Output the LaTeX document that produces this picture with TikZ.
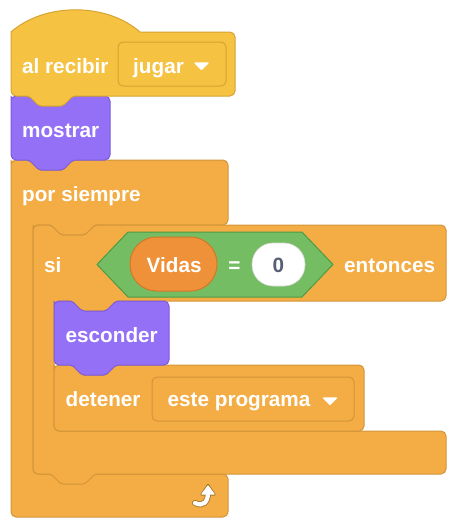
\documentclass[tikz,border=0pt]{standalone}
\usepackage{fontspec}
\setmainfont{Liberation Sans}
\definecolor{hatfill}{HTML}{F5C242}
\definecolor{hatline}{HTML}{D6A432}
\definecolor{ctrlfill}{HTML}{F3AD44}
\definecolor{ctrlline}{HTML}{D3953A}
\definecolor{lookfill}{HTML}{9470F7}
\definecolor{lookline}{HTML}{7D5BDA}
\definecolor{opfill}{HTML}{74BD62}
\definecolor{opline}{HTML}{4E9B45}
\definecolor{varfill}{HTML}{EF9139}
\definecolor{varline}{HTML}{D3782A}
\definecolor{numtext}{HTML}{575E75}
\begin{document}
\begin{tikzpicture}[x=1pt,y=-1pt,
  blk/.style={line width=1pt, line join=round},
  hatblk/.style={blk, fill=hatfill, draw=hatline},
  ctrlblk/.style={blk, fill=ctrlfill, draw=ctrlline, rounded corners=5pt},
  lookblk/.style={blk, fill=lookfill, draw=lookline, rounded corners=5pt},
  lbl/.style={text=white, font=\bfseries\fontsize{20.7}{24}\selectfont, inner sep=0pt, anchor=base west},
  tri/.style={fill=white, draw=white, line join=round, line width=1.2pt}]
\useasboundingbox (0,0) rectangle (460,528);
\fill[white] (0,0) rectangle (460,528);

% por siempre (forever)
\path[ctrlblk] (11,165) -- (11,160)
  -- (21,160) [rounded corners=2pt] -- (29,160) -- (39,170) -- (63,170) -- (73,160) -- (81,160) [rounded corners=5pt]
  -- (228,160) -- (228,225)
  -- (103,225) [rounded corners=2pt] -- (95,225) -- (85,235) -- (61,235) -- (51,225) -- (43,225) [rounded corners=5pt]
  -- (33,225) -- (33,474) -- (228,474) -- (228,517) -- (11,517) -- cycle;
% si ... entonces
\path[ctrlblk] (33,230) -- (33,225)
  -- (43,225) [rounded corners=2pt] -- (51,225) -- (61,235) -- (85,235) -- (95,225) -- (103,225) [rounded corners=5pt]
  -- (446,225) -- (446,301)
  -- (124,301) [rounded corners=2pt] -- (116,301) -- (106,311) -- (82,311) -- (72,301) -- (64,301) [rounded corners=5pt]
  -- (54,301) -- (54,431) -- (446,431) -- (446,474)
  -- (103,474) [rounded corners=2pt] -- (95,474) -- (85,484) -- (61,484) -- (51,474) -- (43,474) [rounded corners=5pt]
  -- (33,474) -- cycle;
% detener
\path[ctrlblk] (54,370) -- (54,365)
  -- (64,365) [rounded corners=2pt] -- (72,365) -- (82,375) -- (106,375) -- (116,365) -- (124,365) [rounded corners=5pt]
  -- (364,365) -- (364,431) -- (54,431) -- cycle;
% esconder
\path[lookblk] (54,306) -- (54,301)
  -- (64,301) [rounded corners=2pt] -- (72,301) -- (82,311) -- (106,311) -- (116,301) -- (124,301) [rounded corners=5pt]
  -- (169,301) -- (169,365)
  -- (124,365) [rounded corners=2pt] -- (116,365) -- (106,375) -- (82,375) -- (72,365) -- (64,365) [rounded corners=5pt]
  -- (54,365) -- cycle;
% mostrar
\path[lookblk] (11,101) -- (11,96)
  -- (21,96) [rounded corners=2pt] -- (29,96) -- (39,106) -- (63,106) -- (73,96) -- (81,96) [rounded corners=5pt]
  -- (110,96) -- (110,160)
  -- (81,160) [rounded corners=2pt] -- (73,160) -- (63,170) -- (39,170) -- (29,160) -- (21,160) [rounded corners=5pt]
  -- (11,160) -- cycle;
% al recibir (hat)
\path[hatblk] (11,40) -- (11,32) .. controls (44.6,2.4) and (106.4,2.4) .. (140,32) -- (150,32)
  [rounded corners=5pt] -- (235,32) -- (235,96)
  -- (81,96) [rounded corners=2pt] -- (73,96) -- (63,106) -- (39,106) -- (29,96) -- (21,96) [rounded corners=5pt]
  -- (11,96) -- cycle;

% dropdowns
\draw[fill=hatfill, draw=hatline, line width=1pt, rounded corners=5pt] (118,42) rectangle (226,86);
\draw[fill=ctrlfill, draw=ctrlline, line width=1pt, rounded corners=5pt] (152,377) rectangle (354,421);
\path[tri] (195,63) -- (208,63) -- (201.5,69.5) -- cycle;
\path[tri] (323.5,398) -- (336.5,398) -- (330,404.5) -- cycle;

% boolean Vidas = 0
\path[fill=opfill, draw=opline, line width=1pt, line join=round] (97,264.5) -- (128,232) -- (302,232) -- (333,264.5) -- (302,297) -- (128,297) -- cycle;
\draw[fill=varfill, draw=varline, line width=1pt, rounded corners=26.5pt] (130,237) rectangle (217,291);
\draw[fill=white, draw=white!85!black, line width=0.6pt, rounded corners=21pt] (252,243) rectangle (305,286);

% repeat arrow icon
\coordinate (arTail) at (195,503);
\coordinate (arEnd) at (208,493);
\draw[ctrlline!80!black, line width=6pt, line cap=round] (arTail) .. controls (203,507) and (208,502) .. (arEnd);
\path[fill=ctrlline!80!black, draw=ctrlline!80!black, line width=2.2pt, line join=round] (201.5,494.5) -- (208,485) -- (214.5,494.5) -- cycle;
\draw[white, line width=4.2pt, line cap=round] (arTail) .. controls (203,507) and (208,502) .. (arEnd);
\path[tri] (202,494) -- (208,486) -- (214,494) -- cycle;

% texts
\node[lbl] (tRecibir) at (22,73) {al recibir};
\node[lbl] (tJugar) at (133,73) {jugar};
\node[lbl] (tMostrar) at (22,137) {mostrar};
\node[lbl] (tSiempre) at (22,201) {por siempre};
\node[lbl] (tSi) at (44,272) {si};
\node[lbl] (tVidas) at (146.5,272) {Vidas};
\node[lbl, anchor=base] (tEq) at (234.5,272) {=};
\node[lbl, anchor=base, text=numtext] (tCero) at (278.5,272) {0};
\node[lbl] (tEntonces) at (344,272) {entonces};
\node[lbl] (tEsconder) at (65.5,342) {esconder};
\node[lbl] (tDetener) at (65.5,406.5) {detener};
\node[lbl] (tPrograma) at (167.5,406.5) {este programa};
\end{tikzpicture}
\end{document}
